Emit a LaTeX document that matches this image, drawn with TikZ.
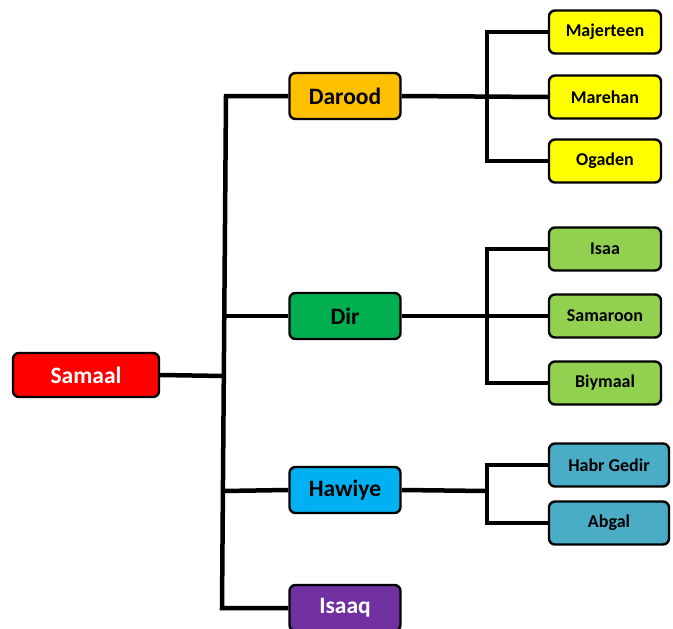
\documentclass[tikz,border=0pt]{standalone}
\usepackage{fontspec}
\setmainfont{Carlito}
\usetikzlibrary{backgrounds}
\definecolor{cSamaal}{HTML}{FF0000}
\definecolor{cDarood}{HTML}{FFC000}
\definecolor{cDir}{HTML}{00B050}
\definecolor{cHawiye}{HTML}{00B0F0}
\definecolor{cIsaaq}{HTML}{7030A0}
\definecolor{cYel}{HTML}{FFFF00}
\definecolor{cLime}{HTML}{92D050}
\definecolor{cTeal}{HTML}{4BACC6}
\begin{document}
\begin{tikzpicture}[x=1pt,y=-1pt,
  box/.style={draw=black,line width=2.4pt,rounded corners=6pt,inner sep=0pt},
  lone/.style={box,minimum width=146pt,minimum height=44pt,font=\bfseries\fontsize{23.5}{26}\selectfont},
  ltwo/.style={box,minimum width=111pt,minimum height=46pt,font=\bfseries\fontsize{23.5}{26}\selectfont},
  lthree/.style={box,minimum width=112pt,minimum height=43pt,font=\bfseries\fontsize{18}{20}\selectfont},
  lthreew/.style={lthree,minimum width=120pt},
  conn/.style={line width=4.5pt}]
\useasboundingbox (0,0) rectangle (673,629);
% nodes
\node[lone,fill=cSamaal,text=white] (samaal) at (86,375) {Samaal};
\node[ltwo,fill=cDarood] (darood) at (345,96) {Darood};
\node[ltwo,fill=cDir] (dir) at (345,316) {Dir};
\node[ltwo,fill=cHawiye] (hawiye) at (345,490) {Hawiye};
\node[ltwo,fill=cIsaaq,text=white] (isaaq) at (345,608) {Isaaq};
\node[lthree,fill=cYel] (majerteen) at (605,32) {Majerteen};
\node[lthree,fill=cYel] (marehan) at (605,97) {Marehan};
\node[lthree,fill=cYel] (ogaden) at (605,161) {Ogaden};
\node[lthree,fill=cLime] (isaa) at (605,249) {Isaa};
\node[lthree,fill=cLime] (samaroon) at (605,316) {Samaroon};
\node[lthree,fill=cLime] (biymaal) at (605,383) {Biymaal};
\node[lthreew,fill=cTeal] (habr) at (609,465) {Habr Gedir};
\node[lthreew,fill=cTeal] (abgal) at (609,523) {Abgal};
% coordinates
\coordinate (ttop) at (226,96);
\coordinate (tbot) at (222,608);
\coordinate (tsam) at (224,376);
\coordinate (tdir) at (225,316);
\coordinate (thaw) at (223,491);
\coordinate (bdar) at (487,97);
\coordinate (bdir) at (487,316);
\coordinate (bhaw) at (487,491);
% connectors
\begin{scope}[on background layer]
\draw[conn] (darood.west) -- (ttop) -- (tbot) -- (isaaq.west);
\draw[conn] (samaal.east) -- (tsam);
\draw[conn] (tdir) -- (dir.west);
\draw[conn] (thaw) -- (hawiye.west);
\draw[conn] (darood.east) -- (marehan.west);
\draw[conn] (majerteen.west) -| (bdar) |- (ogaden.west);
\draw[conn] (dir.east) -- (samaroon.west);
\draw[conn] (isaa.west) -| (bdir) |- (biymaal.west);
\draw[conn] (hawiye.east) -- (bhaw);
\draw[conn] (habr.west) -| (bhaw) |- (abgal.west);
\end{scope}
\end{tikzpicture}
\end{document}
